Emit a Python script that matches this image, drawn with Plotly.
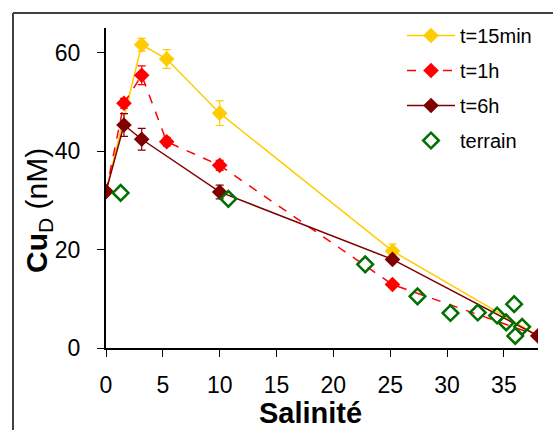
import plotly.graph_objects as go

# Dissolved copper vs salinity: incubation series and field samples
sal_15min = [0, 3.14, 5.34, 10.0, 25.2, 38.0]
cu_15min = [31.8, 61.6, 58.7, 47.7, 19.7, 2.5]
err_15min = [0, 1.3, 1.9, 2.5, 1.4, 0]

sal_1h = [0, 1.58, 3.14, 5.34, 10.0, 25.2, 38.0]
cu_1h = [31.8, 49.7, 55.4, 41.9, 37.1, 12.9, 2.5]
err_1h = [0, 1.0, 1.9, 0.9, 1.0, 0.5, 0]

sal_6h = [0, 1.58, 3.14, 10.0, 25.2, 38.0]
cu_6h = [31.8, 45.3, 42.4, 31.7, 18.0, 2.45]
err_6h = [0, 2.3, 2.2, 1.4, 0.5, 0]

sal_field = [1.29, 10.76, 22.8, 27.4, 30.3, 32.7, 34.4, 35.2, 35.9, 36.0, 36.6]
cu_field = [31.5, 30.3, 17.0, 10.5, 7.1, 7.2, 6.6, 5.2, 8.9, 2.45, 4.3]

x_ticks = [0, 5, 10, 15, 20, 25, 30, 35]
y_ticks = [0, 20, 40, 60]

GOLD = "#FFCC00"
RED = "#FF0000"
MAROON = "#800000"
GREEN = "#007000"
FONT = "Liberation Sans, Arial"

W, H = 553, 430
ML, MR, MT, MB = 106, 15, 28, 82
PW, PH = W - ML - MR, H - MT - MB

fig = go.Figure()

def err(vals, color):
    return dict(type="data", array=vals, visible=True, color=color,
                thickness=1.2, width=4)

fig.add_trace(go.Scatter(
    x=sal_15min, y=cu_15min, name="t=15min", mode="lines+markers",
    line=dict(color=GOLD, width=1.5),
    marker=dict(symbol="diamond", size=12, color=GOLD),
    error_y=err(err_15min, GOLD), legendgroup="a"))

fig.add_trace(go.Scatter(
    x=sal_1h, y=cu_1h, name="t=1h", mode="lines+markers",
    line=dict(color=RED, width=1.5, dash="dash"),
    marker=dict(symbol="diamond", size=12, color=RED),
    error_y=err(err_1h, RED), legendgroup="b"))

fig.add_trace(go.Scatter(
    x=sal_6h, y=cu_6h, name="t=6h", mode="lines+markers",
    line=dict(color=MAROON, width=1.5),
    marker=dict(symbol="diamond", size=12, color=MAROON),
    error_y=err(err_6h, MAROON), legendgroup="c"))

fig.add_trace(go.Scatter(
    x=sal_field, y=cu_field, name="terrain", mode="markers",
    marker=dict(symbol="diamond-open", size=12, color=GREEN,
                line=dict(color=GREEN, width=2.5)),
    legendgroup="d"))

axis_common = dict(
    showgrid=False, zeroline=False, showline=True, linecolor="black",
    linewidth=2, ticks="outside", ticklen=7, tickwidth=1.2,
    tickcolor="black",
    tickfont=dict(family=FONT, size=23, color="black"),
)

fig.update_xaxes(range=[0, 38], tickvals=x_ticks, ticklabelstandoff=8,
                 **axis_common)
fig.update_yaxes(range=[0, 65], tickvals=y_ticks, ticklabelstandoff=12,
                 **axis_common)

# outer frame (left and top edges)
fx0 = (13 - ML) / PW
fx1 = (W - ML) / PW
fy_top = (H - MB - 13) / PH
fy_bot = (H - MB - H) / PH
fig.add_shape(type="line", xref="paper", yref="paper", x0=fx0, x1=fx1,
              y0=fy_top, y1=fy_top, line=dict(color="#404040", width=2))
fig.add_shape(type="line", xref="paper", yref="paper", x0=fx0, x1=fx0,
              y0=fy_top, y1=fy_bot, line=dict(color="#404040", width=2))

fig.add_annotation(
    text="<b>Salinité</b>", xref="paper", yref="paper",
    x=(310 - ML) / PW, y=(H - MB - 413) / PH, showarrow=False,
    xanchor="center", yanchor="middle",
    font=dict(family=FONT, size=29, color="black"))
fig.add_annotation(
    text="<b>Cu</b><sub>D</sub> (nM)", xref="paper", yref="paper",
    x=(38 - ML) / PW, y=(H - MB - 211) / PH, showarrow=False, textangle=-90,
    xanchor="center", yanchor="middle",
    font=dict(family=FONT, size=30, color="black"))

fig.update_layout(
    width=W, height=H, margin=dict(l=ML, r=MR, t=MT, b=MB),
    paper_bgcolor="white", plot_bgcolor="white",
    showlegend=True,
    legend=dict(x=(402 - ML) / PW, y=(H - MB - 16) / PH,
                xanchor="left", yanchor="top", bgcolor="rgba(0,0,0,0)",
                font=dict(family=FONT, size=20, color="black"),
                itemwidth=48, tracegroupgap=6),
)

fig.write_html("out.html")
